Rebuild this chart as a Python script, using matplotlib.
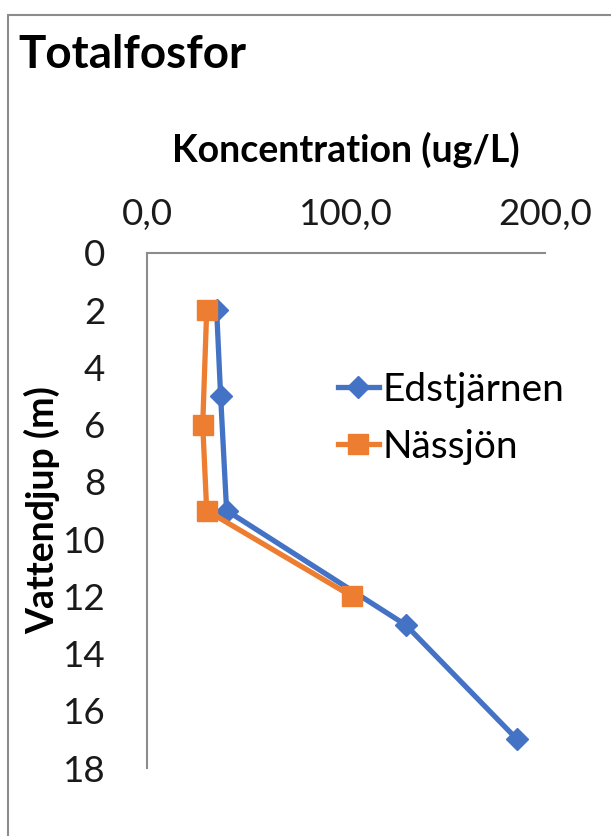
import matplotlib.pyplot as plt
from matplotlib.patches import Rectangle

plt.rcParams['font.family'] = ['Lato', 'DejaVu Sans']

# data
edst_depth = [2, 5, 9, 13, 17]
edst_conc = [35, 37, 40, 130, 186]
nass_depth = [2, 6, 9, 12]
nass_conc = [30, 28, 30, 103]

blue = '#4472C4'
orange = '#ED7D31'
grey = '#8C8C8C'

fig = plt.figure(figsize=(6.11, 8.36), dpi=100)

# chart frame (cut off at right/bottom like the screenshot)
fig.patches.append(Rectangle((8/611, -0.1), 1.2, 1 - 15/836 + 0.1,
                             transform=fig.transFigure, fill=False,
                             edgecolor=grey, linewidth=1.5))

ax = fig.add_axes([147/611, 1 - 768/836, 398/611, 515/836])

ax.plot(edst_conc, edst_depth, color=blue, lw=3.8, marker='D', ms=11,
        label='Edstjärnen', zorder=3)
ax.plot(nass_conc, nass_depth, color=orange, lw=3.8, marker='s', ms=15,
        label='Nässjön', zorder=4)

ax.set_xlim(0, 200)
ax.set_ylim(18, 0)
ax.set_xticks([0, 100, 200])
ax.set_xticklabels(['0,0', '100,0', '200,0'])
ax.set_yticks(range(0, 19, 2))
ax.xaxis.tick_top()
ax.xaxis.set_label_position('top')
ax.tick_params(length=0, labelsize=26.5, colors='#1a1a1a')
ax.tick_params(axis='x', pad=16)
ax.tick_params(axis='y', pad=30)

for s in ['right', 'bottom']:
    ax.spines[s].set_visible(False)
for s in ['top', 'left']:
    ax.spines[s].set_color(grey)
    ax.spines[s].set_linewidth(1.5)

ax.set_xlabel('Koncentration (ug/L)', fontsize=27, fontweight='bold', labelpad=26)
ax.set_ylabel('Vattendjup (m)', fontsize=27, fontweight='bold', labelpad=2)

fig.text(18/611, 1 - 55/836, 'Totalfosfor', fontsize=33, fontweight='bold',
         va='center', ha='left')

ax.legend(loc='upper left', bbox_to_anchor=(0.44, 0.80), frameon=False,
          fontsize=28, handlelength=1.05, handletextpad=0.1, labelspacing=0.55,
          borderaxespad=0)

fig.savefig('out.png', dpi=100)
